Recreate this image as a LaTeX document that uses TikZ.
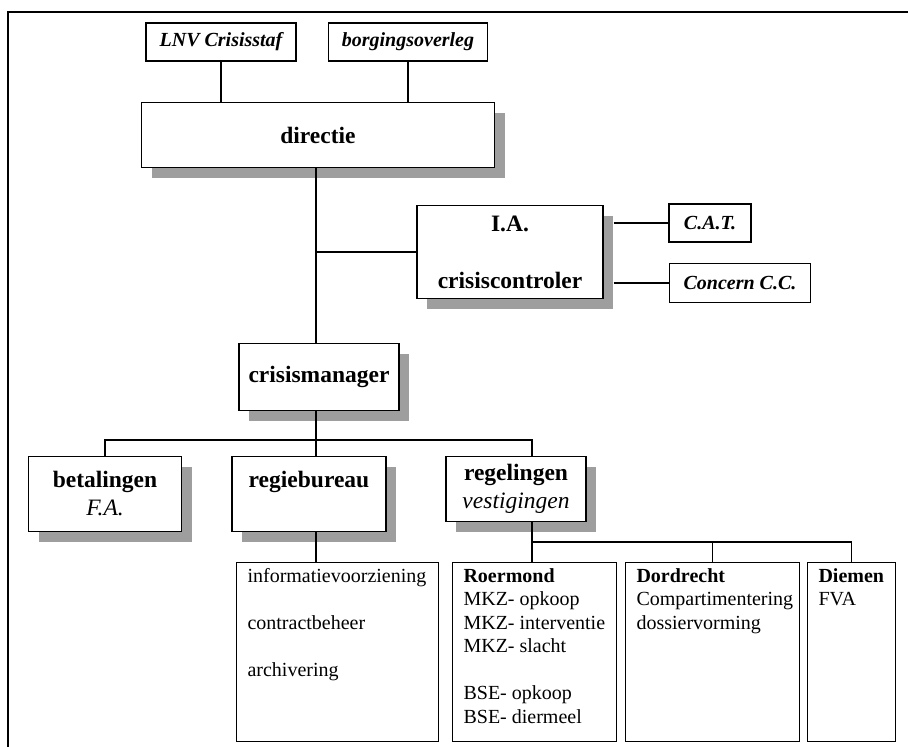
\documentclass[tikz,border=0pt]{standalone}
\usepackage{fontspec}
\setmainfont{Liberation Serif}
\usepackage{tikz}
\usetikzlibrary{shadows}
\newcommand\postlist[2]{\parbox[t][167pt][t]{#1}{\leftskip=11pt\rightskip=0pt plus 1fil\relax #2}}
\tikzset{every picture/.style={x=1pt,y=-1pt,line width=1.1pt},
  unit/.style={draw, fill=white, rectangle, inner sep=0pt, align=center,
    font=\fontsize{23.5}{28}\selectfont\bfseries,
    drop shadow={shadow xshift=10pt, shadow yshift=-10pt, fill=black!38, opacity=1}},
  staff/.style={draw, fill=white, rectangle, inner sep=0pt,
    font=\fontsize{20}{24}\selectfont\bfseries\itshape},
  post/.style={draw, fill=white, rectangle, inner xsep=0pt, inner ysep=6pt,
    anchor=north west, font=\fontsize{20}{23.5}\selectfont}}

\begin{document}
\begin{tikzpicture}
        \useasboundingbox (0,0) rectangle (908,747);
        % Frame round the chart
        \draw[line width=1.5pt] (8,747) -- (8,12) -- (908,12);

        % Define the positions of the nodes
        \node[staff, minimum width=150, minimum height=38] (lnv) at (221,42) {LNV Crisisstaf};
        \node[staff, minimum width=159, minimum height=38] (borg) at (408,42) {borgingsoverleg};
        \node[unit, minimum width=353, minimum height=65] (directie) at (318,135) {directie};
        \node[unit, minimum width=186, minimum height=93] (ia) at (510,252) {I.A.\\[29pt]crisiscontroler};
        \node[staff, minimum width=82, minimum height=38] (cat) at (710,223) {C.A.T.};
        \node[staff, minimum width=141, minimum height=39] (concern) at (740,283) {Concern C.C.};
        \node[unit, minimum width=160, minimum height=67] (manager) at (319,377) {crisismanager};
        \node[unit, minimum width=153, minimum height=75] (betalingen) at (105,494) {betalingen\\\mdseries\itshape F.A.};
        \node[unit, minimum width=154, minimum height=75] (regie) at (309,494) {regiebureau\\\phantom{F.A.}};
        \node[unit, minimum width=140, minimum height=65] (regelingen) at (516,489) {regelingen\\\mdseries\itshape vestigingen};

        \node[post] (info) at (236,562) {\postlist{202pt}{informatievoorziening\\[\baselineskip]contractbeheer\\[\baselineskip]archivering}};
        \node[post] (roermond) at (452,562) {\postlist{164pt}{\textbf{Roermond}\\MKZ- opkoop\\MKZ- interventie\\MKZ- slacht\\[\baselineskip]BSE- opkoop\\BSE- diermeel}};
        \node[post] (dordrecht) at (625,562) {\postlist{174pt}{\textbf{Dordrecht}\\Compartimentering\\dossiervorming}};
        \node[post] (diemen) at (807,562) {\postlist{88pt}{\textbf{Diemen}\\FVA}};

        % Helper points of the bus lines
        \coordinate (bus) at (316,440);
        \coordinate (sub) at (532,542);

        % Draw the edges
        \foreach \from in {lnv, borg}
          \draw (\from) -- (\from |- directie.north);
        \draw (directie.south -| bus) -- (manager.north -| bus);
        \draw (ia.west) -- (ia.west -| bus);
        \draw ([xshift=10pt]ia.east |- cat.west) -- (cat.west);
        \draw ([xshift=10pt]ia.east |- concern.west) -- (concern.west);
        \draw (manager.south -| bus) -- (bus);
        \draw (betalingen.north) |- (bus) -| (sub |- regelingen.north);
        \draw (bus) -- (regie.north -| bus);
        \draw (regie.south -| bus) -- (info.north -| bus);
        \draw (regelingen.south -| sub) -- (roermond.north -| sub);
        \draw (sub) -| (diemen.north);
        \draw (dordrecht.north) -- (dordrecht.north |- sub);
    \end{tikzpicture}
\end{document}
